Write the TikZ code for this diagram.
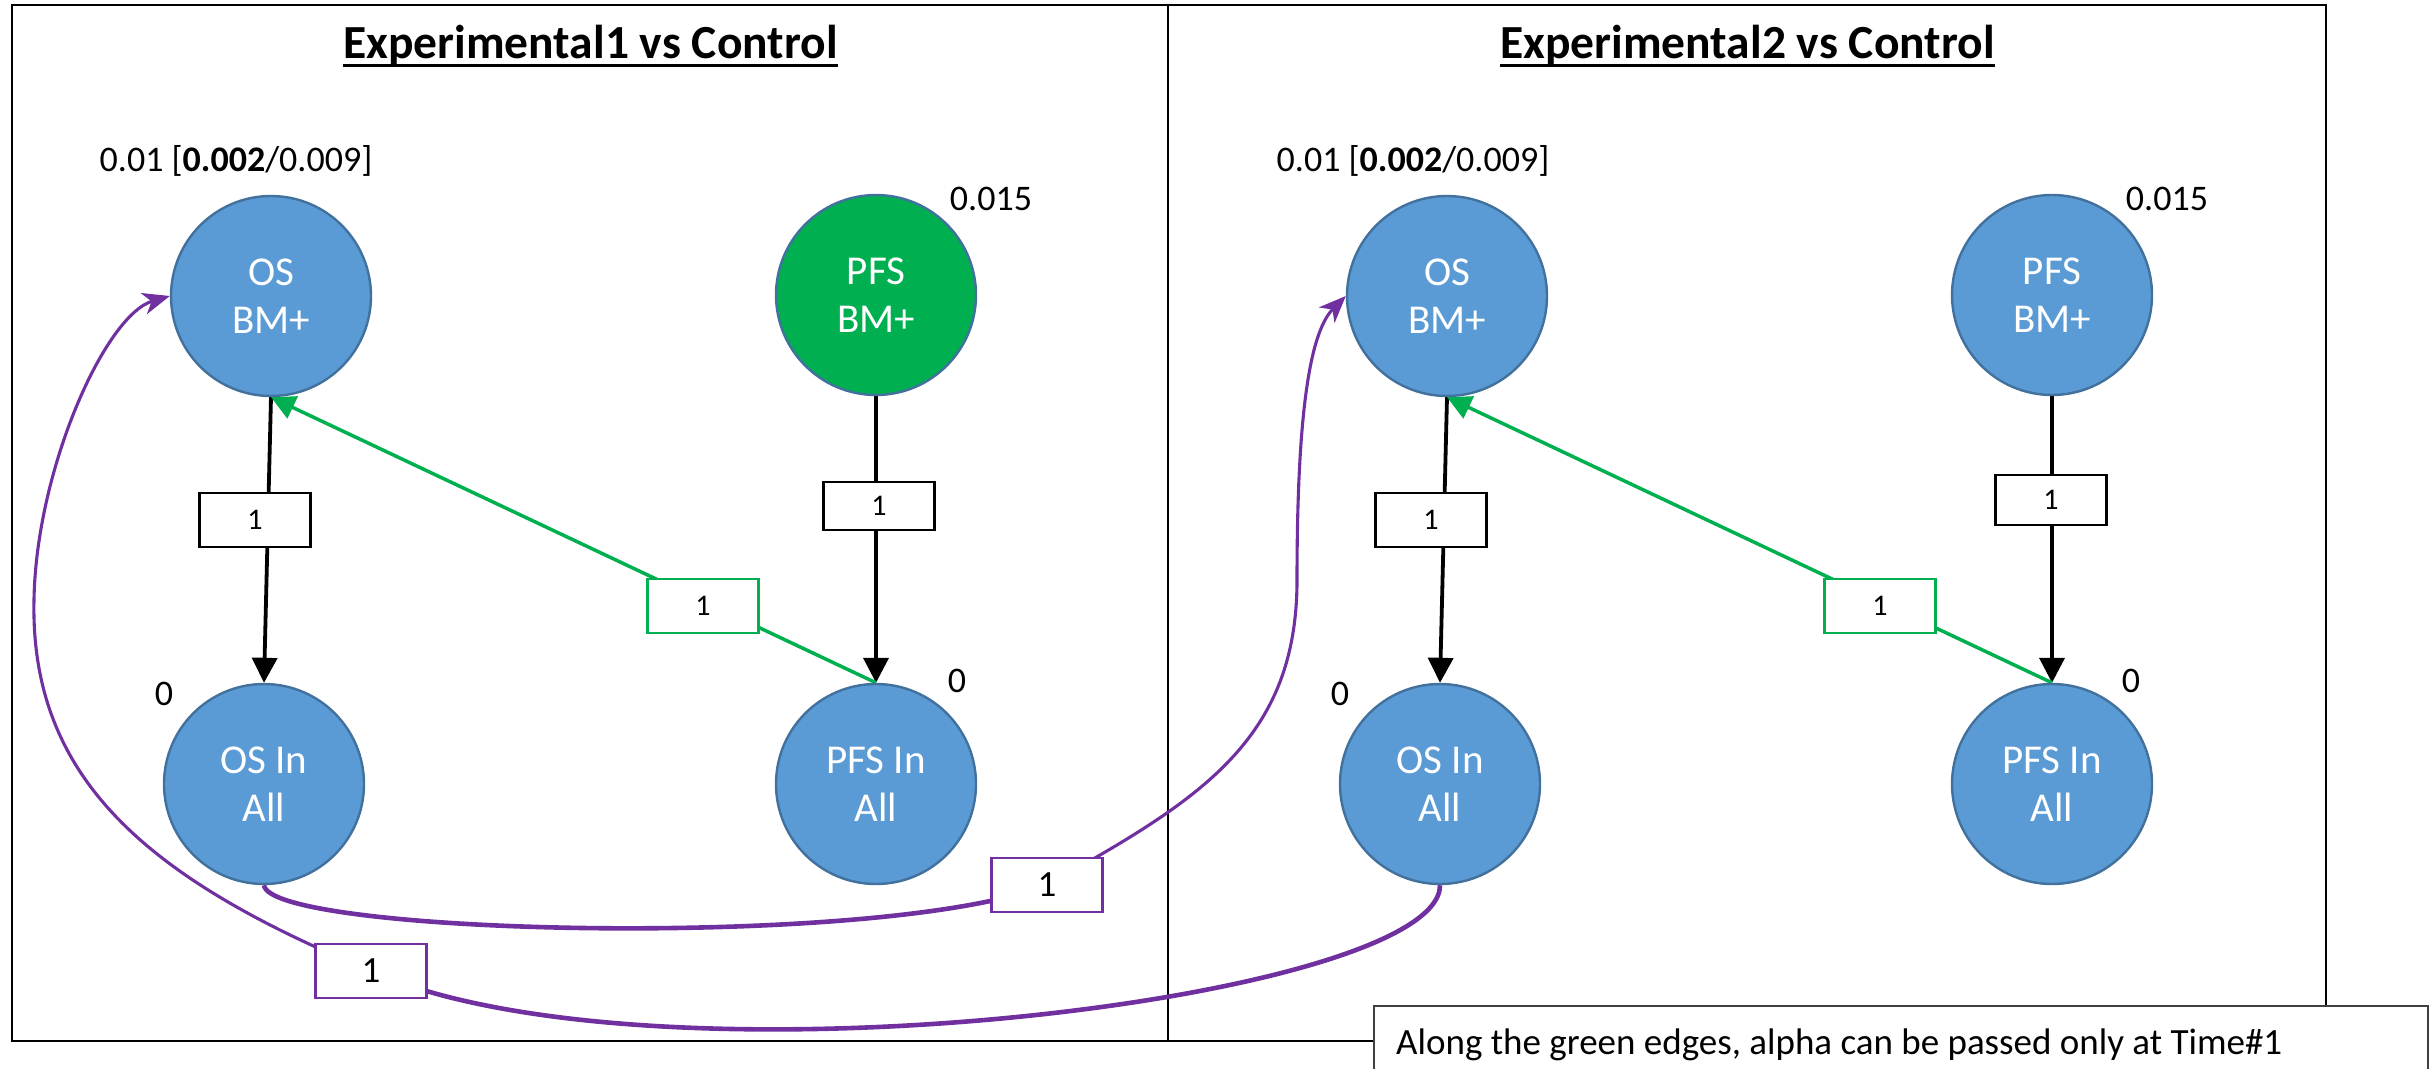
\documentclass[tikz,border=0pt]{standalone}
\usepackage{fontspec}
\setmainfont{Carlito}
\usetikzlibrary{arrows.meta}
\definecolor{nodeblue}{HTML}{5B9BD5}
\definecolor{nodeedge}{HTML}{41719C}
\definecolor{nodegreen}{HTML}{00B050}
\definecolor{edgegreen}{HTML}{00B050}
\definecolor{edgepurple}{HTML}{7030A0}
\definecolor{noteedge}{HTML}{404040}
\pgfdeclarelayer{bg}
\pgfdeclarelayer{edges}
\pgfsetlayers{bg,edges,main}
\begin{document}
\begin{tikzpicture}[x=1pt,y=-1pt,
  frame/.style={line width=2.8pt, draw=black},
  paneltitle/.style={font=\bfseries\fontsize{47.5}{52}\selectfont, anchor=base, inner sep=0pt},
  bnode/.style={circle, fill=nodeblue, draw=nodeedge, line width=2.4pt, minimum size=200pt, inner sep=0pt, text=white, font=\fontsize{41}{48}\selectfont, align=center},
  gnode/.style={bnode, fill=nodegreen},
  vlbl/.style={font=\fontsize{36}{40}\selectfont, anchor=base, inner sep=0pt},
  wbox/.style={draw=black, fill=white, line width=2.8pt, minimum width=111pt, minimum height=54pt, inner sep=0pt, font=\fontsize{30}{34}\selectfont},
  gbox/.style={wbox, draw=edgegreen},
  pbox/.style={wbox, draw=edgepurple, line width=2.6pt, font=\fontsize{37}{40}\selectfont},
  blkedge/.style={draw=black, line width=3.8pt, -{Triangle[length=25pt,width=25pt]}},
  grnedge/.style={draw=edgegreen, line width=3.5pt, -{Triangle[length=24pt,width=24pt]}},
  pthick/.style={draw=edgepurple, line width=4.6pt},
  pthin/.style={draw=edgepurple, line width=3.1pt, -{Stealth[length=27pt,width=22pt,inset=8pt]}},
  notebox/.style={draw=noteedge, fill=white, line width=2.4pt}
]
\useasboundingbox (0,0) rectangle (2435,1068);

\begin{pgfonlayer}{bg}
  \draw[frame] (12,5) rectangle (1168,1041);
  \draw[frame] (1168,5) rectangle (2326,1041);
\end{pgfonlayer}

% titles
\node[paneltitle] (t1) at (590.5,58) {Experimental1 vs Control};
\draw[line width=3.2pt] ([yshift=-7.5pt]t1.base west) -- ([yshift=-7.5pt]t1.base east);
\node[paneltitle] (t2) at (1747.5,58) {Experimental2 vs Control};
\draw[line width=3.2pt] ([yshift=-7.5pt]t2.base west) -- ([yshift=-7.5pt]t2.base east);

% left panel nodes
\node[bnode] (osbmL) at (271,296) {OS\\BM+};
\node[gnode] (pfsbmL) at (876,295) {PFS\\BM+};
\node[bnode] (osinL) at (264,784) {OS In\\All};
\node[bnode] (pfsinL) at (876,784) {PFS In\\All};

% right panel nodes
\node[bnode] (osbmR) at (1447,296) {OS\\BM+};
\node[bnode] (pfsbmR) at (2052,295) {PFS\\BM+};
\node[bnode] (osinR) at (1440,784) {OS In\\All};
\node[bnode] (pfsinR) at (2052,784) {PFS In\\All};

% value labels
\node[vlbl] (vosL) at (236,171) {0.01 [\textbf{0.002}/0.009]};
\node[vlbl] (vpfsL) at (991,210) {0.015};
\node[vlbl] (vosinL) at (164,705) {0};
\node[vlbl] (vpfsinL) at (957,692) {0};
\node[vlbl] (vosR) at (1413,171) {0.01 [\textbf{0.002}/0.009]};
\node[vlbl] (vpfsR) at (2167,210) {0.015};
\node[vlbl] (vosinR) at (1340,705) {0};
\node[vlbl] (vpfsinR) at (2131,692) {0};

% edge label boxes
\node[wbox] (bxosL) at (255,520) {1};
\node[wbox, minimum height=48pt] (bxpfsL) at (879,506) {1};
\node[gbox] (gxL) at (703,606) {1};
\node[wbox] (bxosR) at (1431,520) {1};
\node[wbox, minimum height=50pt] (bxpfsR) at (2051,500) {1};
\node[gbox] (gxR) at (1880,606) {1};
\node[pbox] (lbA) at (1047,885) {1};
\node[pbox] (lbB) at (371,971) {1};

% edges
\begin{pgfonlayer}{edges}
  \draw[blkedge] (osbmL.south) -- (osinL.north);
  \draw[blkedge] (pfsbmL.south) -- (pfsinL.north);
  \draw[grnedge] (pfsinL.north) -- (osbmL.south);
  \draw[blkedge] (osbmR.south) -- (osinR.north);
  \draw[blkedge] (pfsbmR.south) -- (pfsinR.north);
  \draw[grnedge] (pfsinR.north) -- (osbmR.south);
  \draw[pthick] (osinL.south) .. controls (270,935) and (880,950) .. (lbA.center);
  \draw[pthin] (lbA.center) .. controls (1200,800) and (1297,740) .. (1297,580)
                .. controls (1297,400) and (1312,330) .. (osbmR.west);
  \draw[pthick] (osinR.south) .. controls (1440,1000) and (650,1095) .. (lbB.center);
  \draw[pthin] (lbB.center) .. controls (150,880) and (30,780) .. (34,600)
                .. controls (36,470) and (105,315) .. (osbmL.west);
\end{pgfonlayer}

% note
\draw[notebox] (1374,1006) rectangle (2428,1080);
\node[anchor=base west, inner sep=0pt, font=\fontsize{37}{40}\selectfont] (note) at (1396,1054) {Along the green edges, alpha can be passed only at Time\#1};
\end{tikzpicture}
\end{document}
